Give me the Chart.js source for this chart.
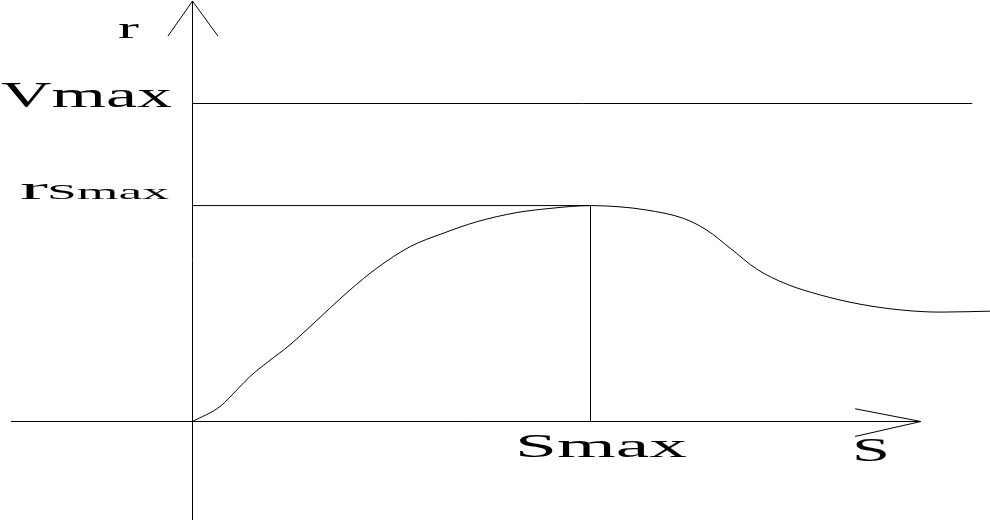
<!DOCTYPE html>
<html>
<head>
<meta charset="utf-8">
<script src="https://cdn.jsdelivr.net/npm/chart.js@4"></script>
<style>
html,body{margin:0;padding:0;background:#fff;}
#wrap{width:990px;height:520px;position:relative;}
canvas{display:block;}
</style>
</head>
<body>
<div id="wrap"><canvas id="c" width="990" height="520"></canvas></div>
<script>
// Curve r(S): S values and r values (Smax = 10, Vmax = 1)
const curveS = [0, 0.69, 1.15, 1.44, 1.90, 2.45, 2.95, 3.45, 3.96, 4.63, 5.47, 6.30, 7.14, 8.15, 8.98, 10.0, 10.74, 11.41, 12.33, 12.92, 13.51, 14.18, 14.93, 15.77, 16.77, 17.78, 18.78, 20.04];
const curveR = [0, 0.047, 0.104, 0.141, 0.188, 0.241, 0.298, 0.356, 0.414, 0.482, 0.550, 0.592, 0.628, 0.657, 0.670, 0.679, 0.675, 0.665, 0.639, 0.602, 0.545, 0.479, 0.432, 0.398, 0.369, 0.351, 0.344, 0.347];

const Smax = 10;
const rSmax = 0.679;
const Vmax = 1.0;
const VmaxLineEnd = 19.59;

// Axes (x axis from/to, y axis from/to) and arrow heads
const xAxisX = [-4.56, 18.30];
const yAxisY = [-0.31, 1.322];
const xArrowX = [16.65, 18.30, 16.65];
const xArrowY = [0.040, 0, -0.047];
const yArrowX = [-0.616, 0, 0.64];
const yArrowY = [1.212, 1.322, 1.212];

// Labels
const labelTexts = ["r", "Vmax", "r", "Smax", "Smax", "S"];

const pts = (xs, ys) => xs.map((x, i) => ({x: x, y: ys[i]}));
const lineDs = (data, extra) => Object.assign({
  data: data, showLine: true, borderColor: '#000', borderWidth: 1,
  pointRadius: 0, fill: false, tension: 0
}, extra || {});

const datasets = [
  lineDs(pts(curveS, curveR), {cubicInterpolationMode: 'monotone'}),
  lineDs([{x: xAxisX[0], y: 0}, {x: xAxisX[1], y: 0}]),
  lineDs([{x: 0, y: yAxisY[0]}, {x: 0, y: yAxisY[1]}]),
  lineDs(pts(xArrowX, xArrowY)),
  lineDs(pts(yArrowX, yArrowY)),
  lineDs([{x: 0, y: Vmax}, {x: VmaxLineEnd, y: Vmax}]),
  lineDs([{x: 0, y: rSmax}, {x: Smax, y: rSmax}]),
  lineDs([{x: Smax, y: 0}, {x: Smax, y: rSmax}])
];

// label layout: [textIndex, left px, baseline px, font px, width px]
const labelLayout = [
  [0, 118, 38, 29, 21],
  [1, 1, 107, 35, 171],
  [2, 20, 199, 31, 28],
  [3, 47, 199, 21, 122],
  [4, 515, 457, 34, 172],
  [5, 852, 461, 33, 38]
];

const textPlugin = {
  id: 'texts',
  afterDraw(chart) {
    const ctx = chart.ctx;
    labelLayout.forEach(l => {
      const t = labelTexts[l[0]];
      ctx.save();
      ctx.font = l[3] + 'px "Liberation Serif", "Times New Roman", serif';
      ctx.fillStyle = '#000';
      ctx.textBaseline = 'alphabetic';
      const w = ctx.measureText(t).width;
      const sx = l[4] / w;
      ctx.translate(l[1], l[2]);
      ctx.scale(sx, 1);
      ctx.fillText(t, 0, 0);
      ctx.restore();
    });
  }
};

new Chart(document.getElementById('c'), {
  type: 'scatter',
  data: {datasets: datasets},
  options: {
    responsive: false,
    animation: false,
    devicePixelRatio: 1,
    layout: {padding: 0},
    plugins: {legend: {display: false}, tooltip: {enabled: false}},
    scales: {
      x: {type: 'linear', display: false, min: -192.5 / 39.8, max: (990 - 192.5) / 39.8},
      y: {type: 'linear', display: false, min: (421.5 - 520) / 318, max: 421.5 / 318}
    }
  },
  plugins: [textPlugin]
});
</script>
</body>
</html>
